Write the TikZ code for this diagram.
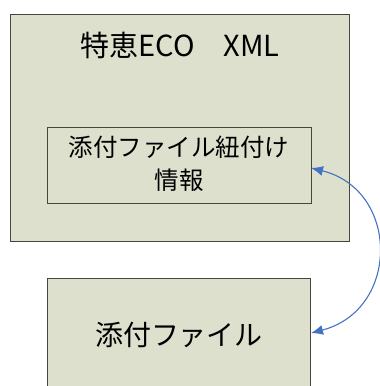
\documentclass[tikz,border=0pt]{standalone}
\usepackage{fontspec}
\newfontfamily\cjk{Noto Sans CJK JP}
\usetikzlibrary{arrows.meta}
\definecolor{boxfill}{RGB}{221,224,204}
\definecolor{boxline}{RGB}{70,70,60}
\definecolor{arrowblue}{RGB}{68,114,196}
\tikzset{
  box/.style={draw=boxline, fill=boxfill, line width=0.9pt},
  lbl/.style={font=\cjk, text=black, align=center},
  link/.style={draw=arrowblue, line width=1.1pt, {Latex[length=12pt,width=10pt]}-{Latex[length=12pt,width=10pt]}}
}
\begin{document}
\begin{tikzpicture}[x=1pt,y=-1pt]
\useasboundingbox (0,0) rectangle (380,386);
\draw[box] (10,14) rectangle (349,241);
\node[lbl, font=\cjk\fontsize{29}{32}\selectfont] (title) at (180,45) {特恵ECO　XML};
\draw[box] (47,127) rectangle (311,203);
\coordinate (innerR) at (311,168);
\node[lbl, font=\cjk\fontsize{24.5}{33}\selectfont] (inner) at (179,164) {添付ファイル紐付け\\情報};
\draw[box] (47,278) rectangle (310,395);
\coordinate (bottomR) at (311,333);
\node[lbl, font=\cjk\fontsize{28}{30}\selectfont] (file) at (179,335) {添付ファイル};
\draw[link] (innerR) .. controls (400,190) and (400,310) .. (bottomR);
\end{tikzpicture}
\end{document}
